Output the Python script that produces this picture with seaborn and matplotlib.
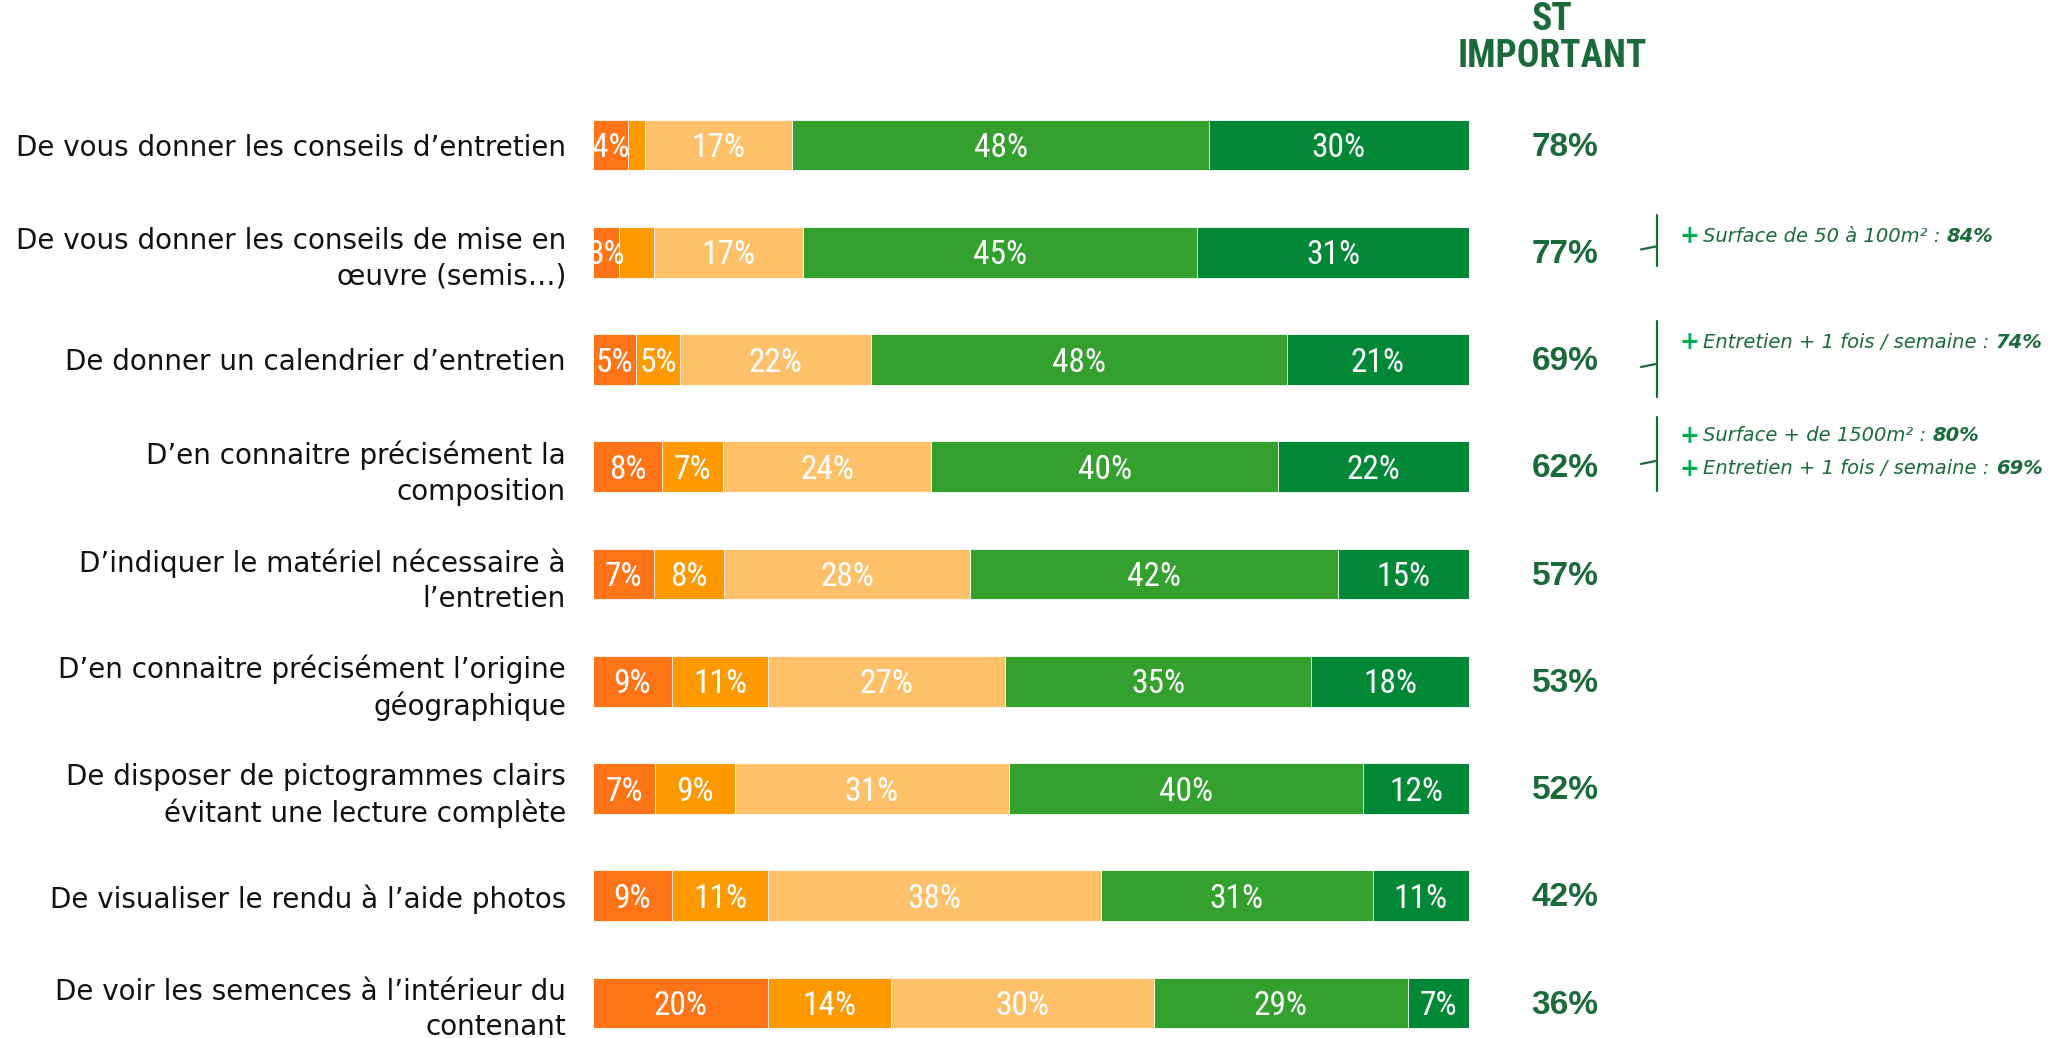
import numpy as np
import matplotlib
matplotlib.use("Agg")
import matplotlib.pyplot as plt
from matplotlib import transforms, font_manager
import seaborn as sns

# Items rated (top to bottom)
items = [
    "De vous donner les conseils d\u2019entretien",
    "De vous donner les conseils de mise en\n\u0153uvre (semis\u2026)",
    "De donner un calendrier d\u2019entretien",
    "D\u2019en connaitre pr\u00e9cis\u00e9ment la\ncomposition",
    "D\u2019indiquer le mat\u00e9riel n\u00e9cessaire \u00e0\nl\u2019entretien",
    "D\u2019en connaitre pr\u00e9cis\u00e9ment l\u2019origine\ng\u00e9ographique",
    "De disposer de pictogrammes clairs\n\u00e9vitant une lecture compl\u00e8te",
    "De visualiser le rendu \u00e0 l\u2019aide photos",
    "De voir les semences \u00e0 l\u2019int\u00e9rieur du\ncontenant",
]

# Answer shares (%) from "not at all important" to "very important"
pas_du_tout = [4, 3, 5, 8, 7, 9, 7, 9, 20]
peu = [2, 4, 5, 7, 8, 11, 9, 11, 14]
moyen = [17, 17, 22, 24, 28, 27, 31, 38, 30]
assez = [48, 45, 48, 40, 42, 35, 40, 31, 29]
tres = [30, 31, 21, 22, 15, 18, 12, 11, 7]

# Sub-total "important" (assez + très)
st_important = [78, 77, 69, 62, 57, 53, 52, 42, 36]

# Sub-group call-outs: row index -> list of (label, value)
callouts = {
    1: [("Surface de 50 \u00e0 100m\u00b2 : ", "84%")],
    2: [("Entretien + 1 fois / semaine : ", "74%")],
    3: [("Surface + de 1500m\u00b2 : ", "80%"),
        ("Entretien + 1 fois / semaine : ", "69%")],
}

seg_colors = ["#FF7417", "#FF9900", "#FEC169", "#34A02E", "#008837"]
dark_green = "#1B6B3A"
plus_green = "#00B050"


def first_font(candidates):
    """Return the first installed family among candidates."""
    for name in candidates:
        try:
            font_manager.findfont(font_manager.FontProperties(family=name),
                                  fallback_to_default=False)
            return name
        except Exception:
            continue
    return "DejaVu Sans"


narrow = first_font(["Liberation Sans Narrow", "DejaVu Sans Condensed",
                     "Roboto Condensed", "Open Sans Condensed",
                     "Noto Sans Condensed", "Arial Narrow"])
narrow_bold = first_font(["Liberation Sans Narrow", "Roboto Condensed",
                          "DejaVu Sans Condensed", "Open Sans Condensed",
                          "Noto Sans Condensed", "Liberation Sans"])

W, H = 2048, 1038
sns.set_theme(style="white")
plt.rcParams["font.family"] = ["DejaVu Sans"]

fig = plt.figure(figsize=(W / 100, H / 100), dpi=100)
ax = fig.add_axes([593 / W, 0, (1469 - 593) / W, 1])

segs = np.array([pas_du_tout, peu, moyen, assez, tres], dtype=float).T
share = segs / segs.sum(axis=1, keepdims=True) * 100
cum = share.cumsum(axis=1)

# Stacked bars: draw cumulative totals from the longest down
for k in range(4, -1, -1):
    sns.barplot(x=cum[:, k], y=items, order=items, orient="h",
                color=seg_colors[k], saturation=1, width=0.475,
                edgecolor="white", linewidth=0.6, ax=ax)

# Row centres sit 107.25 px apart, the first at 145 px from the top
row_px, row0 = 107.25, 145
ax.set_ylim((H - row0) / row_px, -row0 / row_px)
ax.set_xlim(0, 100)
ax.set_xticks([])
ax.set_xlabel("")
ax.set_ylabel("")
ax.set_yticks(range(len(items)))
ax.set_yticklabels(items, fontsize=20, color="#111111", linespacing=1.32)
ax.tick_params(axis="y", length=0, pad=19.5)
for s in ax.spines.values():
    s.set_visible(False)

for i in range(len(items)):
    left = 0.0
    for k in range(5):
        w = share[i, k]
        v = segs[i, k]
        if k == 0 or v >= 5:
            ax.text(left + w / 2, i + 0.03, f"{int(v)}%", ha="center",
                    va="center", color="white", fontsize=24,
                    family=[narrow, "DejaVu Sans"])
        left += w

tr = transforms.blended_transform_factory(fig.transFigure, ax.transData)

# Sub-total column
for i, v in enumerate(st_important):
    ax.text(1565 / W, i + 0.02, f"{v}%", transform=tr, ha="center",
            va="center", fontsize=24, fontweight="bold",
            family=["Liberation Sans", "DejaVu Sans"], color=dark_green)

for txt, ypx in (("ST", 20), ("IMPORTANT", 57)):
    fig.text(1552 / W, 1 - ypx / H, txt, ha="center", va="center",
             fontsize=27, fontweight="bold", family=[narrow_bold, "DejaVu Sans"],
             color=dark_green)

# Call-outs with brackets
bracket = {1: (-0.345, 0.13, -0.056, [-0.15]),
           2: (-0.355, 0.345, 0.04, [-0.16]),
           3: (-0.466, 0.224, -0.056, [-0.29, 0.02])}
fig.canvas.draw()
renderer = fig.canvas.get_renderer()
for row, lines in callouts.items():
    y0, y1, yt, ys = bracket[row]
    ax.plot([1657 / W, 1657 / W], [row + y0, row + y1], transform=tr,
            color=dark_green, lw=1.6, clip_on=False)
    ax.plot([1641 / W, 1657 / W], [row + yt + 0.03, row + yt], transform=tr,
            color=dark_green, lw=1.6, clip_on=False)
    for (lab, val), dy in zip(lines, ys):
        y = row + dy
        ax.text(1689 / W, y, "+", transform=tr, ha="center", va="center",
                fontsize=17, fontweight="bold", color=plus_green)
        t = ax.text(1703 / W, y, lab, transform=tr, ha="left", va="center",
                    fontsize=14, style="italic", color=dark_green)
        bb = t.get_window_extent(renderer=renderer)
        ax.text(bb.x1 / W, y, val, transform=tr, ha="left", va="center",
                fontsize=14, style="italic", fontweight="bold",
                color=dark_green)

fig.savefig("out.png", dpi=100, facecolor="white")
